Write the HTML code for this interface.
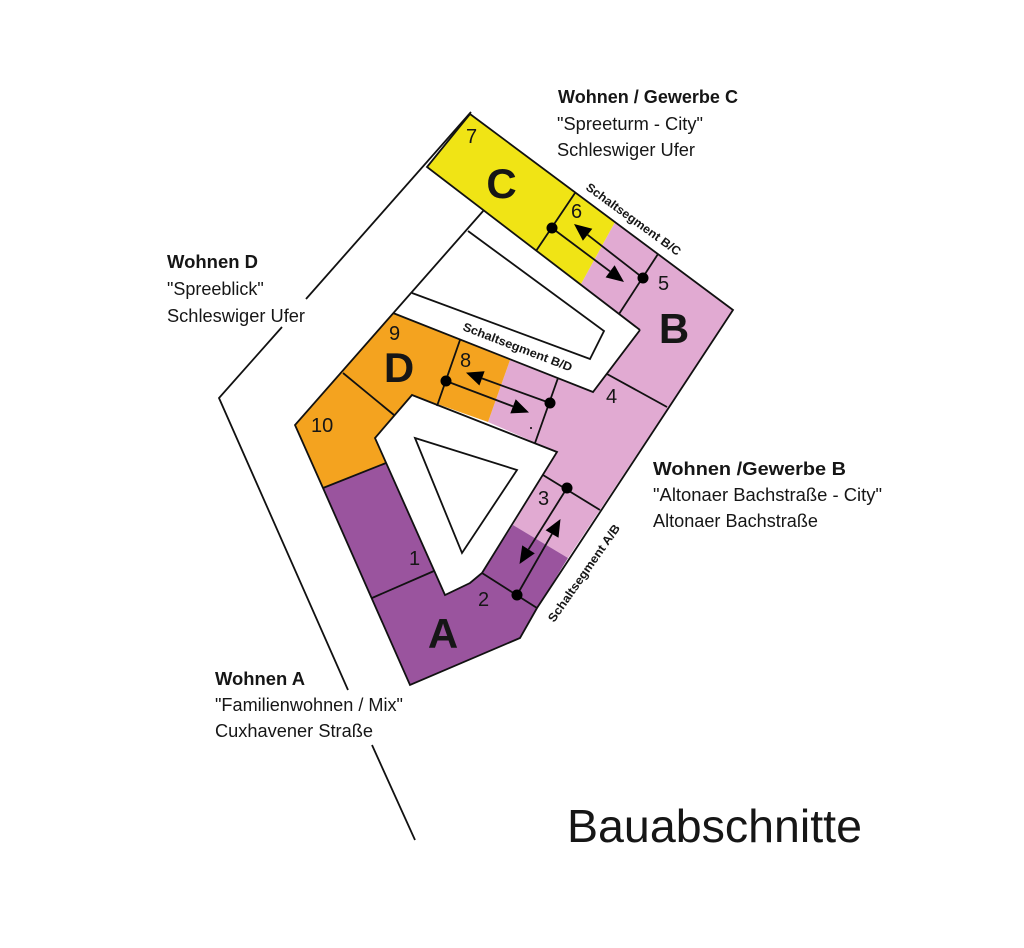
<!DOCTYPE html>
<html>
<head>
<meta charset="utf-8">
<style>
  html,body{margin:0;padding:0;background:#fff;}
  svg{display:block;}
  text{font-family:"Liberation Sans", Arial, sans-serif;fill:#161616;}
  .lbl{font-size:18px;}
  .b{font-weight:bold;}
  .num{font-size:20px;}
  .big{font-size:42px;font-weight:bold;}
  .seg{font-size:12px;font-weight:bold;}
</style>
</head>
<body>
<svg width="1024" height="948" viewBox="0 0 1024 948" xmlns="http://www.w3.org/2000/svg">
  <rect x="0" y="0" width="1024" height="948" fill="#fff"/>

  <!-- colored blocks -->
  <polygon points="615,222 733,310 568,558 513,525 557,452 488,422 510,360 593,392 640,330 581,284" fill="#E1AAD2"/>
  <polygon points="470,114 615,222 581,284 427,167" fill="#F0E415"/>
  <polygon points="393,313 510,360 488,422 412,395 375,438 386,463 323,488 295,425" fill="#F4A31F"/>
  <polygon points="323,488 386,463 445,595 470,583 482,573 513,525 568,558 537,608 520,638 410,685" fill="#9A549E"/>

  <g fill="none" stroke="#111" stroke-width="1.8" stroke-linejoin="miter">
    <!-- road lines -->
    <polyline points="471,112 306,299"/>
    <polyline points="282,327 219,398 348,690"/>
    <polyline points="372,745 415,840"/>

    <!-- outer site boundary -->
    <polyline points="484,210 295,425 323,488 410,685 520,638 537,608 733,310 470,114 427,167 640,330"/>

    <!-- upper courtyard -->
    <polyline points="640,330 593,392 393,313"/>
    <polyline points="468,231 604,331 590,359 412,293"/>

    <!-- lower courtyard -->
    <polygon points="412,395 557,452 482,573 470,583 445,595 375,438" fill="#fff"/>
    <polygon points="415,438 517,470 462,553"/>

    <!-- dividers -->
    <line x1="575" y1="193" x2="536" y2="251"/>
    <line x1="658" y1="254" x2="619" y2="314"/>
    <line x1="607" y1="374" x2="667" y2="407"/>
    <line x1="543" y1="475" x2="600" y2="510"/>
    <line x1="482" y1="573" x2="537" y2="608"/>
    <line x1="372" y1="598" x2="434" y2="571"/>
    <line x1="558" y1="378" x2="535" y2="443"/>
    <line x1="460" y1="340" x2="437" y2="406"/>
    <line x1="343" y1="373" x2="394" y2="415"/>
    <line x1="323" y1="488" x2="386" y2="463"/>

    <!-- arrow shafts -->
    <line x1="552" y1="228" x2="610" y2="271.4"/>
    <line x1="643" y1="278" x2="587.6" y2="234.8"/>
    <line x1="446" y1="381" x2="513" y2="406.4"/>
    <line x1="550" y1="403" x2="482" y2="378.4"/>
    <line x1="567" y1="488" x2="528.5" y2="549.4"/>
    <line x1="517" y1="595" x2="552" y2="533.9"/>
  </g>

  <!-- arrowheads -->
  <g fill="#000">
    <polygon points="624,282 605.6,277.4 614.6,265.3"/>
    <polygon points="574,224 592.3,228.8 582.9,240.8"/>
    <polygon points="529,412.5 510.3,413.4 515.7,399.3"/>
    <polygon points="466,372.6 484.6,371.3 479.4,385.5"/>
    <polygon points="519.5,564 522.2,545.4 534.8,553.4"/>
    <polygon points="560.5,519 558.5,537.8 545.6,530.2"/>
    <!-- dots -->
    <circle cx="552" cy="228" r="5.5"/>
    <circle cx="643" cy="278" r="5.5"/>
    <circle cx="446" cy="381" r="5.5"/>
    <circle cx="550" cy="403" r="5.5"/>
    <circle cx="567" cy="488" r="5.5"/>
    <circle cx="517" cy="595" r="5.5"/>
    <circle cx="531" cy="428" r="1"/>
  </g>

  <!-- big letters -->
  <text class="big" x="501.5" y="198" text-anchor="middle">C</text>
  <text class="big" x="674" y="343" text-anchor="middle">B</text>
  <text class="big" x="399" y="382" text-anchor="middle">D</text>
  <text class="big" x="443" y="648" text-anchor="middle">A</text>

  <!-- numbers -->
  <text class="num" x="466" y="143">7</text>
  <text class="num" x="571" y="218">6</text>
  <text class="num" x="658" y="290">5</text>
  <text class="num" x="606" y="403">4</text>
  <text class="num" x="538" y="505">3</text>
  <text class="num" x="478" y="606">2</text>
  <text class="num" x="409" y="565">1</text>
  <text class="num" x="389" y="340">9</text>
  <text class="num" x="460" y="367">8</text>
  <text class="num" x="311" y="432">10</text>

  <!-- Schaltsegment labels -->
  <text class="seg" transform="translate(585,189) rotate(36)" textLength="114" lengthAdjust="spacingAndGlyphs">Schaltsegment B/C</text>
  <text class="seg" transform="translate(462,330) rotate(21)" textLength="116" lengthAdjust="spacingAndGlyphs">Schaltsegment B/D</text>
  <text class="seg" transform="translate(554,623) rotate(-55)" textLength="116" lengthAdjust="spacingAndGlyphs">Schaltsegment A/B</text>

  <!-- Labels C -->
  <text class="lbl b" x="558" y="103" textLength="180" lengthAdjust="spacingAndGlyphs">Wohnen / Gewerbe C</text>
  <text class="lbl" x="557" y="130" textLength="146" lengthAdjust="spacingAndGlyphs">"Spreeturm - City"</text>
  <text class="lbl" x="557" y="156" textLength="138" lengthAdjust="spacingAndGlyphs">Schleswiger Ufer</text>

  <!-- Labels D -->
  <text class="lbl b" x="167" y="268" textLength="91" lengthAdjust="spacingAndGlyphs">Wohnen D</text>
  <text class="lbl" x="167" y="295">"Spreeblick"</text>
  <text class="lbl" x="167" y="322" textLength="138" lengthAdjust="spacingAndGlyphs">Schleswiger Ufer</text>

  <!-- Labels B -->
  <text class="lbl b" x="653" y="475" textLength="193" lengthAdjust="spacingAndGlyphs">Wohnen /Gewerbe B</text>
  <text class="lbl" x="653" y="501" textLength="229" lengthAdjust="spacingAndGlyphs">"Altonaer Bachstraße - City"</text>
  <text class="lbl" x="653" y="527" textLength="165" lengthAdjust="spacingAndGlyphs">Altonaer Bachstraße</text>

  <!-- Labels A -->
  <text class="lbl b" x="215" y="685" textLength="90" lengthAdjust="spacingAndGlyphs">Wohnen A</text>
  <text class="lbl" x="215" y="711" textLength="188" lengthAdjust="spacingAndGlyphs">"Familienwohnen / Mix"</text>
  <text class="lbl" x="215" y="737" textLength="158" lengthAdjust="spacingAndGlyphs">Cuxhavener Straße</text>

  <!-- Title -->
  <text x="567" y="842" style="font-size:46px;" textLength="295" lengthAdjust="spacingAndGlyphs">Bauabschnitte</text>
</svg>
</body>
</html>
